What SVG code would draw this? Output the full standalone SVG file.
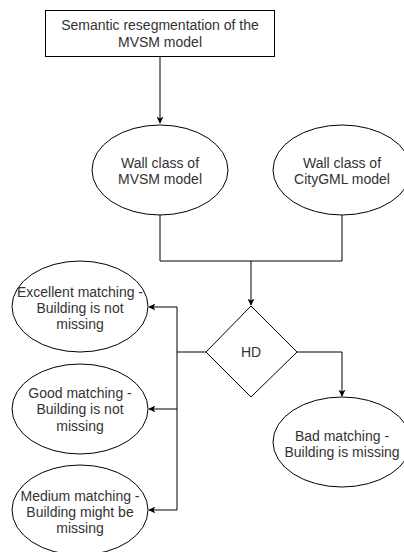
<svg xmlns="http://www.w3.org/2000/svg" width="404" height="552" viewBox="0 0 404 552">
  <defs>
    <marker id="arrow" viewBox="0 0 10 10" refX="9" refY="5" markerWidth="7" markerHeight="7" orient="auto" markerUnits="userSpaceOnUse">
      <path d="M0,0 L10,5 L0,10 L2.5,5 Z" fill="#000"/>
    </marker>
    <style>
      .shape { fill: #fff; stroke: #000; stroke-width: 1; }
      .edge { fill: none; stroke: #000; stroke-width: 1; }
      .label { font-family: "Liberation Sans", Arial, sans-serif; font-size: 14px; fill: #333; text-anchor: middle; }
    </style>
  </defs>
  <rect width="404" height="552" fill="#fff"/>

  <g id="connectors">
    <path class="edge" d="M160,56 V123" marker-end="url(#arrow)"/>
    <path class="edge" d="M160,215 V261 H342 V215"/>
    <path class="edge" d="M251,261 V305" marker-end="url(#arrow)"/>
    <path class="edge" d="M206,352 H177 V307 H149" marker-end="url(#arrow)"/>
    <path class="edge" d="M177,352 V409 H149" marker-end="url(#arrow)"/>
    <path class="edge" d="M177,409 V510 H149" marker-end="url(#arrow)"/>
    <path class="edge" d="M297,352 H342 V396" marker-end="url(#arrow)"/>
  </g>

  <g id="resegmentation">
    <rect class="shape" x="45.5" y="10.5" width="229" height="46"/>
    <text class="label" x="160" y="30">Semantic resegmentation of the</text>
    <text class="label" x="160" y="47">MVSM model</text>
  </g>

  <g id="wall-mvsm">
    <ellipse class="shape" cx="160" cy="170" rx="68" ry="45"/>
    <text class="label" x="160" y="168">Wall class of</text>
    <text class="label" x="160" y="184">MVSM model</text>
  </g>

  <g id="wall-citygml">
    <ellipse class="shape" cx="342" cy="170" rx="69" ry="45"/>
    <text class="label" x="342" y="168">Wall class of</text>
    <text class="label" x="342" y="184">CityGML model</text>
  </g>

  <g id="hd">
    <polygon class="shape" points="251,306 297,352 251,397 206,352"/>
    <text class="label" x="251" y="357">HD</text>
  </g>

  <g id="excellent">
    <ellipse class="shape" cx="80" cy="306.5" rx="68" ry="45.5"/>
    <text class="label" x="80" y="297">Excellent matching -</text>
    <text class="label" x="80" y="313">Building is not</text>
    <text class="label" x="80" y="329">missing</text>
  </g>

  <g id="good">
    <ellipse class="shape" cx="80" cy="409" rx="68" ry="45"/>
    <text class="label" x="80" y="398">Good matching -</text>
    <text class="label" x="80" y="414">Building is not</text>
    <text class="label" x="80" y="431">missing</text>
  </g>

  <g id="medium">
    <ellipse class="shape" cx="80" cy="510" rx="68" ry="45"/>
    <text class="label" x="80" y="501">Medium matching -</text>
    <text class="label" x="80" y="517">Building might be</text>
    <text class="label" x="80" y="533">missing</text>
  </g>

  <g id="bad">
    <ellipse class="shape" cx="342" cy="442" rx="69" ry="45"/>
    <text class="label" x="342" y="441">Bad matching -</text>
    <text class="label" x="342" y="457">Building is missing</text>
  </g>
</svg>
